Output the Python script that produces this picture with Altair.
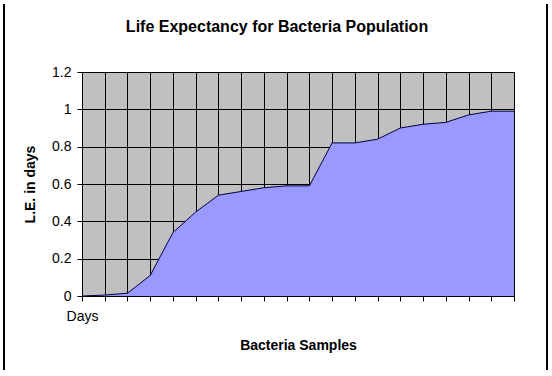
import altair as alt
import pandas as pd

# ---- data ----
samples = [1, 2, 3, 4, 5, 6, 7, 8, 9, 10, 11, 12, 13, 14, 15, 16, 17, 18, 19, 20]
life_expectancy = [0.0, 0.005, 0.015, 0.11, 0.34, 0.45, 0.54, 0.56, 0.58, 0.59,
                   0.59, 0.82, 0.82, 0.84, 0.90, 0.92, 0.93, 0.97, 0.99, 0.99]
y_ticks = [0, 0.2, 0.4, 0.6, 0.8, 1.0, 1.2]
first_label = "Days"

df = pd.DataFrame({"sample": samples, "le": life_expectancy})

FONT = "Liberation Sans"

x_enc = alt.X(
    "sample:O",
    scale=alt.Scale(type="point", padding=0),
    axis=alt.Axis(
        title="Bacteria Samples",
        titleFont=FONT, titleFontSize=14, titleFontWeight="bold", titleColor="black",
        titlePadding=15,
        labelExpr=f"datum.value == 1 ? '{first_label}' : ''",
        labelFont=FONT, labelFontSize=14, labelColor="black", labelPadding=8,
        labelAngle=0,
        grid=True, gridColor="black", gridWidth=1, gridOpacity=1,
        tickColor="black", tickSize=5, domainColor="black",
    ),
)

y_enc = alt.Y(
    "le:Q",
    scale=alt.Scale(domain=[0, 1.2], nice=False),
    axis=alt.Axis(
        title="L.E. in days",
        titleFont=FONT, titleFontSize=14, titleFontWeight="bold", titleColor="black",
        titlePadding=14,
        values=y_ticks, format=".1~f",
        labelFont=FONT, labelFontSize=14, labelColor="black", labelPadding=6,
        grid=True, gridColor="black", gridWidth=1, gridOpacity=1,
        tickColor="black", tickSize=5, domainColor="black",
    ),
)

area = alt.Chart(df).mark_area(
    color="#9999FF", opacity=1,
    line={"color": "#000040", "strokeWidth": 1},
).encode(x=x_enc, y=y_enc)

border_df = pd.DataFrame({"side": ["left", "right"]})
left_border = alt.Chart(border_df).mark_rule(color="black", strokeWidth=2).encode(
    x=alt.value(-78), y=alt.value(-68), y2=alt.value(298)
)
right_border = alt.Chart(border_df).mark_rule(color="black", strokeWidth=2).encode(
    x=alt.value(465), y=alt.value(-68), y2=alt.value(298)
)

chart = alt.layer(area, left_border, right_border).properties(
    width=432,
    height=224,
    padding={"left": 82, "top": 72, "right": 38, "bottom": 80},
    autosize=alt.AutoSizeParams(type="none"),
    background="white",
    title=alt.TitleParams(
        "Life Expectancy for Bacteria Population",
        font=FONT, fontSize=16, fontWeight="bold", color="black",
        anchor="middle", dx=-21, offset=-45, baseline="alphabetic",
    ),
).configure_view(
    fill="#C0C0C0", stroke="#808080", strokeWidth=1
)

chart.save("out.html", embed_options={"renderer": "svg", "actions": False})
